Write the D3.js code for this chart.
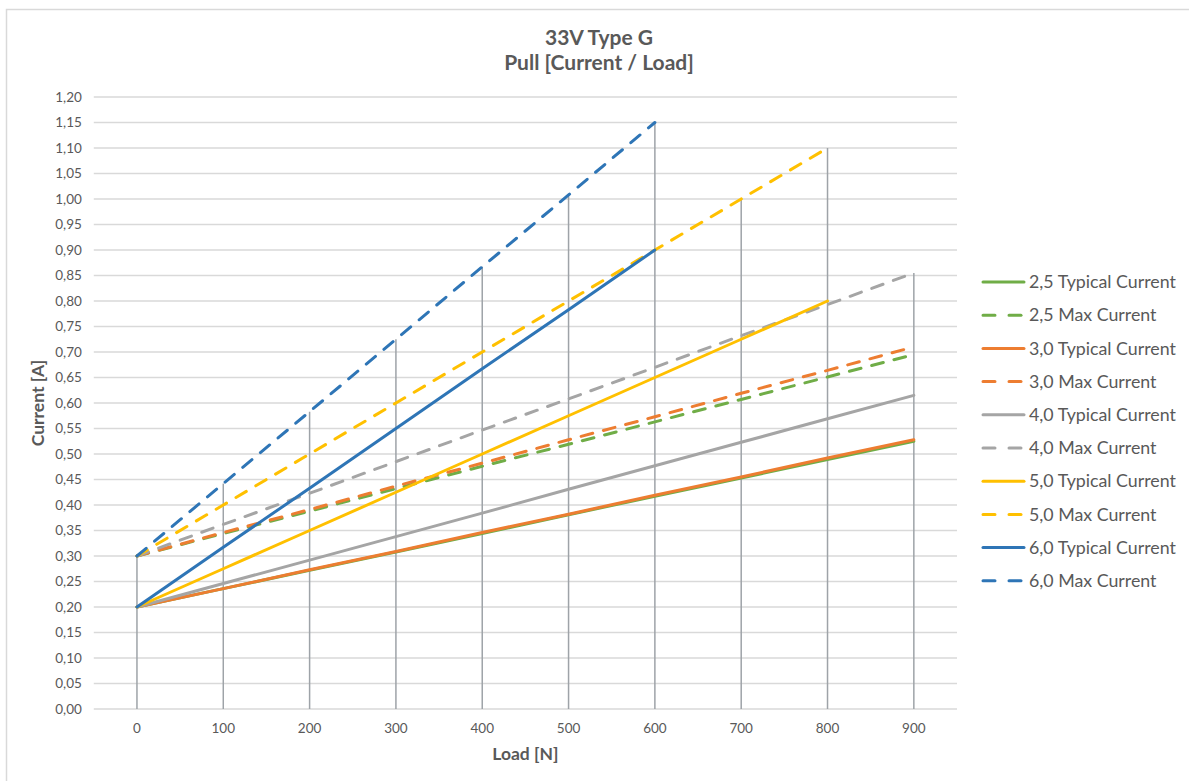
<!DOCTYPE html>
<html>
<head>
<meta charset="utf-8">
<script src="https://cdn.jsdelivr.net/npm/d3@7"></script>
<style>
  body { margin: 0; background: #fff; }
  text { font-family: Lato, "Open Sans", sans-serif; fill: #595959; }
</style>
</head>
<body>
<div id="container"></div>
<script>
// categories on the x axis (Load [N])
var loads = [0, 100, 200, 300, 400, 500, 600, 700, 800, 900];

// values (Current [A]); null = no point
var typ25 = [0.200, 0.236, 0.272, 0.308, 0.344, 0.381, 0.417, 0.453, 0.489, 0.525];
var max25 = [0.300, 0.344, 0.388, 0.432, 0.476, 0.519, 0.563, 0.607, 0.651, 0.695];
var typ30 = [0.200, 0.236, 0.273, 0.309, 0.346, 0.382, 0.419, 0.455, 0.492, 0.528];
var max30 = [0.300, 0.346, 0.391, 0.437, 0.482, 0.528, 0.573, 0.619, 0.664, 0.710];
var typ40 = [0.200, 0.246, 0.292, 0.338, 0.384, 0.431, 0.477, 0.523, 0.569, 0.615];
var max40 = [0.300, 0.362, 0.423, 0.485, 0.547, 0.608, 0.670, 0.732, 0.793, 0.855];
var typ50 = [0.200, 0.275, 0.350, 0.425, 0.500, 0.575, 0.650, 0.725, 0.800, null];
var max50 = [0.300, 0.400, 0.500, 0.600, 0.700, 0.800, 0.900, 1.000, 1.100, null];
var typ60 = [0.200, 0.317, 0.433, 0.550, 0.667, 0.783, 0.900, null, null, null];
var max60 = [0.300, 0.442, 0.583, 0.725, 0.867, 1.008, 1.150, null, null, null];

var seriesNames = ["2,5 Typical Current", "2,5 Max Current", "3,0 Typical Current", "3,0 Max Current",
                   "4,0 Typical Current", "4,0 Max Current", "5,0 Typical Current", "5,0 Max Current",
                   "6,0 Typical Current", "6,0 Max Current"];
var seriesValues = [typ25, max25, typ30, max30, typ40, max40, typ50, max50, typ60, max60];

var yTicks = d3.range(0, 1.2001, 0.05);

var init = function(){
    var W = 1189, H = 781;
    var colors = ["#70AD47", "#70AD47", "#ED7D31", "#ED7D31", "#A5A5A5", "#A5A5A5",
                  "#FFC000", "#FFC000", "#2E75B6", "#2E75B6"];

    var svg = d3.select("#container").append("svg")
        .attr("width", W).attr("height", H);

    // chart frame
    svg.append("rect")
        .attr("x", 6.5).attr("y", 9.5)
        .attr("width", W + 20).attr("height", H + 20)
        .attr("fill", "none").attr("stroke", "#d9d9d9").attr("stroke-width", 1.5);

    var left = 93.8, right = 957, top = 97, bottom = 709;

    var x = d3.scaleBand().domain(loads).range([left, right]);
    var y = d3.scaleLinear().domain([0, 1.2]).range([bottom, top]);
    var cx = function(d){ return x(d) + x.bandwidth() / 2; };

    // horizontal gridlines
    svg.append("g").selectAll("line").data(yTicks).enter().append("line")
        .attr("x1", left).attr("x2", right)
        .attr("y1", function(d){ return y(d); }).attr("y2", function(d){ return y(d); })
        .attr("stroke", "#d9d9d9").attr("stroke-width", 1.5);

    // y tick labels
    svg.append("g").selectAll("text").data(yTicks).enter().append("text")
        .attr("x", left - 12)
        .attr("y", function(d){ return y(d); })
        .attr("dy", "0.35em")
        .attr("text-anchor", "end")
        .style("font-size", "13.5px")
        .text(function(d){ return d3.format(".2f")(d).replace(".", ","); });

    // x tick labels
    svg.append("g").selectAll("text").data(loads).enter().append("text")
        .attr("x", cx)
        .attr("y", bottom + 24)
        .attr("text-anchor", "middle")
        .style("font-size", "13.5px")
        .text(function(d){ return d; });

    // drop lines: from the highest point of each category down to the axis
    svg.append("g").selectAll("line").data(loads).enter().append("line")
        .attr("x1", cx).attr("x2", cx)
        .attr("y1", function(d, i){
            var m = d3.max(seriesValues, function(s){ return s[i]; });
            return y(m);
        })
        .attr("y2", bottom)
        .attr("stroke", "#9ea3a8").attr("stroke-width", 1.5);

    // series lines
    var line = d3.line()
        .defined(function(d){ return d[1] != null; })
        .x(function(d){ return cx(d[0]); })
        .y(function(d){ return y(d[1]); });

    seriesValues.forEach(function(vals, i){
        var dashed = i % 2 == 1;
        svg.append("path")
            .datum(loads.map(function(l, j){ return [l, vals[j]]; }))
            .attr("d", line)
            .attr("fill", "none")
            .attr("stroke", colors[i])
            .attr("stroke-width", 3)
            .attr("stroke-linecap", "round")
            .attr("stroke-dasharray", dashed ? "12,11" : null);
    });

    // titles
    svg.append("text").attr("x", 599).attr("y", 45)
        .attr("text-anchor", "middle")
        .style("font-size", "21px").style("font-weight", "bold")
        .text("33V Type G");
    svg.append("text").attr("x", 599).attr("y", 70)
        .attr("text-anchor", "middle")
        .style("font-size", "21px").style("font-weight", "bold")
        .text("Pull [Current / Load]");

    // axis titles
    svg.append("text").attr("x", (left + right) / 2).attr("y", 760)
        .attr("text-anchor", "middle")
        .style("font-size", "17.5px").style("font-weight", "bold")
        .text("Load [N]");
    svg.append("text")
        .attr("transform", "translate(44," + ((top + bottom) / 2) + ") rotate(-90)")
        .attr("text-anchor", "middle")
        .style("font-size", "17.5px").style("font-weight", "bold")
        .text("Current [A]");

    // legend
    var legend = svg.append("g").attr("transform", "translate(983,282)");
    seriesNames.forEach(function(name, i){
        var g = legend.append("g").attr("transform", "translate(0," + (i * 33.2) + ")");
        g.append("line")
            .attr("x1", 0).attr("x2", 41)
            .attr("stroke", colors[i]).attr("stroke-width", 3)
            .attr("stroke-linecap", "round")
            .attr("stroke-dasharray", i % 2 == 1 ? "12,14" : null);
        g.append("text").attr("x", 46).attr("dy", "0.35em")
            .style("font-size", "17.8px")
            .text(name);
    });
};

init();
</script>
</body>
</html>
